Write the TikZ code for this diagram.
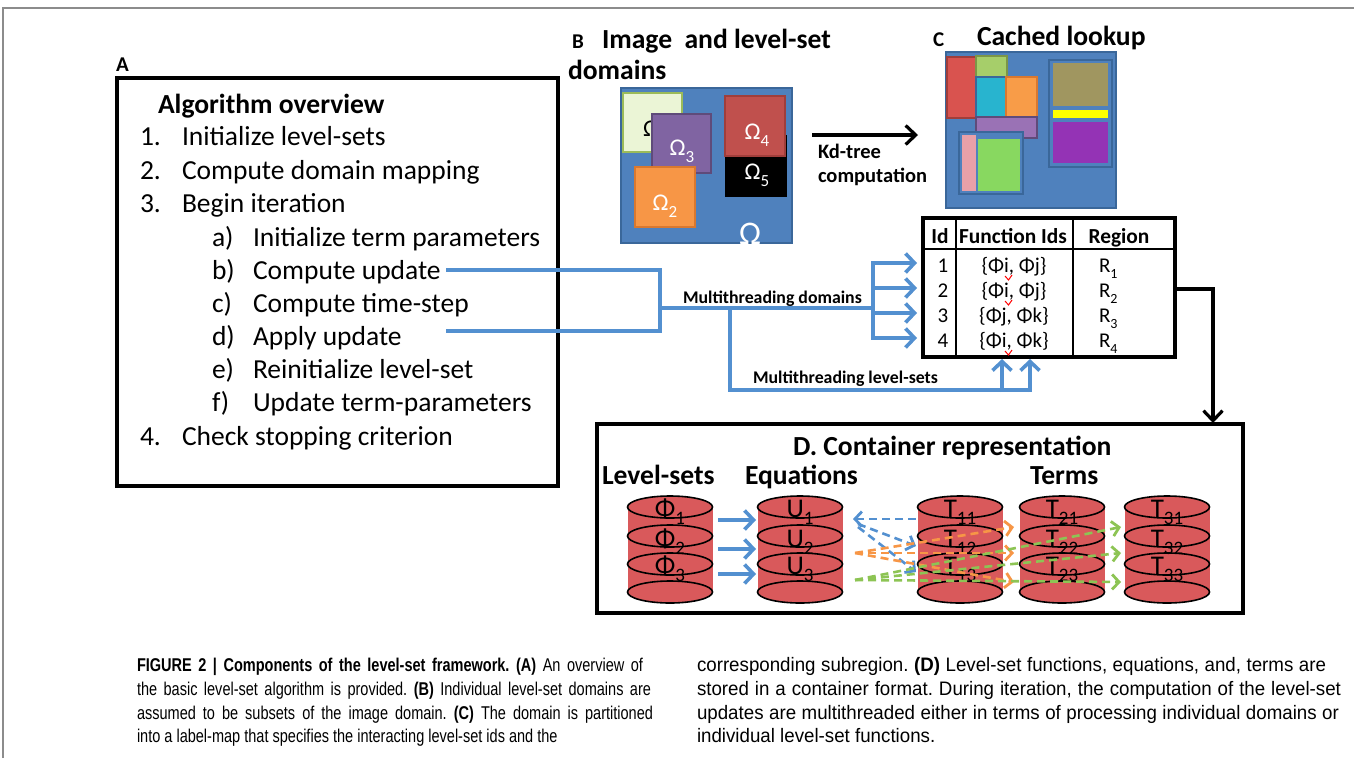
\documentclass[tikz,border=0pt]{standalone}
\usepackage{fontspec}
\setmainfont{Carlito}
\newfontfamily\capfont[FakeStretch=0.785]{Liberation Sans}
\newfontfamily\capwide[FakeStretch=0.96]{Liberation Sans}
\usetikzlibrary{arrows.meta}

\definecolor{frame}{HTML}{8C8C8C}
\definecolor{oblue}{HTML}{4F81BD}
\definecolor{obluedk}{HTML}{3A679A}
\definecolor{lgreen}{HTML}{EBF5D6}
\definecolor{lgreendk}{HTML}{9BBB59}
\definecolor{opurple}{HTML}{8064A2}
\definecolor{opurpledk}{HTML}{5F4B7A}
\definecolor{oorange}{HTML}{F79646}
\definecolor{oorangedk}{HTML}{D9782F}
\definecolor{ored}{HTML}{C0504D}
\definecolor{oreddk}{HTML}{A03E3B}
\definecolor{cred}{HTML}{D9534F}
\definecolor{cgreen}{HTML}{A6CE6A}
\definecolor{ccyan}{HTML}{28B4CF}
\definecolor{corange}{HTML}{F89C48}
\definecolor{cpurple}{HTML}{9A72B5}
\definecolor{cpink}{HTML}{E8A0A8}
\definecolor{cgreen2}{HTML}{88D860}
\definecolor{colive}{HTML}{A09660}
\definecolor{cyellow}{HTML}{FFFF00}
\definecolor{cviolet}{HTML}{9433B5}
\definecolor{linkblue}{HTML}{5390D0}
\definecolor{drum}{HTML}{D9595B}
\definecolor{dorange}{HTML}{F79646}
\definecolor{dgreen}{HTML}{8DC454}

\tikzset{
  every node/.style={inner sep=0pt, outer sep=0pt},
  panelbox/.style={draw=black, line width=3.4pt},
  steptxt/.style={font=\fontsize{27.5}{31}\selectfont, anchor=base west},
  headtxt/.style={font=\fontsize{27.6}{31}\selectfont\bfseries, anchor=base west},
  lettertxt/.style={font=\fontsize{21}{24}\selectfont\bfseries, anchor=base west},
  smallbold/.style={font=\fontsize{17.8}{21}\selectfont\bfseries, anchor=base west},
  tabhead/.style={font=\fontsize{21.4}{24}\selectfont\bfseries, anchor=base},
  tabcell/.style={font=\fontsize{21}{24}\selectfont, anchor=base},
  omega/.style={font=\fontsize{24}{28}\selectfont, text=white, anchor=base},
  drumtxt/.style={font=\fontsize{27}{30}\selectfont, anchor=base},
  captxt/.style={font=\capfont\frenchspacing\fontsize{18.5}{21}\selectfont, anchor=base west},
  capright/.style={captxt, font=\capwide\frenchspacing\fontsize{19.5}{22}\selectfont},
  link/.style={draw=linkblue, line width=4.4pt},
  linktip/.style={-{Straight Barb[length=9pt,width=19pt,line width=3.6pt]}},
  blacktip/.style={-{Straight Barb[length=10pt,width=19pt,line width=3.2pt]}},
  dashlink/.style={line width=2.6pt, dash pattern=on 8pt off 5pt},
  dashtip/.style={-{Straight Barb[length=7pt,width=15pt,line width=2.8pt]}},
}

% a stack of three labelled drums with an empty bottom lid
\newcommand\drumstack[6]{%
  \fill[drum] (#1-42.5,507) rectangle (#1+42.5,592);
  \foreach \yy in {507,536,564,592}
    \filldraw[fill=drum, draw=black, line width=1.6pt] (#1,\yy) ellipse [x radius=42.5, y radius=11];
  \node[drumtxt] (#2a) at (#1,517) {#3\raisebox{-0.26em}{\fontsize{19}{21}\selectfont #4}};
  \node[drumtxt] (#2b) at (#1,547) {#3\raisebox{-0.26em}{\fontsize{19}{21}\selectfont #5}};
  \node[drumtxt] (#2c) at (#1,574) {#3\raisebox{-0.26em}{\fontsize{19}{21}\selectfont #6}};
}

\begin{document}
\begin{tikzpicture}[x=1pt, y=-1pt]
\useasboundingbox (0,0) rectangle (1354,758);

% page frame
\draw[frame, line width=1.6pt] (3,758) -- (3,8) -- (1354,8);

% ---------------- A: algorithm overview ----------------
\node[lettertxt] (labA) at (116,71) {A};
\node[panelbox, anchor=north west, minimum width=441, minimum height=408] (boxA) at (117,78) {};
\node[headtxt] (titleA) at (158,113) {Algorithm overview};
\node[steptxt] (n1) at (140,145) {1.};  \node[steptxt] (s1) at (182,145) {Initialize level-sets};
\node[steptxt] (n2) at (140,179) {2.};  \node[steptxt] (s2) at (182,179) {Compute domain mapping};
\node[steptxt] (n3) at (140,212) {3.};  \node[steptxt] (s3) at (182,212) {Begin iteration};
\node[steptxt] (la) at (212,246) {a)};  \node[steptxt] (ta) at (253,246) {Initialize term parameters};
\node[steptxt] (lb) at (212,279) {b)};  \node[steptxt] (tb) at (253,279) {Compute update};
\node[steptxt] (lc) at (212,312) {c)};  \node[steptxt] (tc) at (253,312) {Compute time-step};
\node[steptxt] (ld) at (212,345) {d)};  \node[steptxt] (td) at (253,345) {Apply update};
\node[steptxt] (le) at (212,378) {e)};  \node[steptxt] (te) at (253,378) {Reinitialize level-set};
\node[steptxt] (lf) at (212,411) {f)};  \node[steptxt] (tf) at (253,411) {Update term-parameters};
\node[steptxt] (n4) at (140,445) {4.};  \node[steptxt] (s4) at (182,445) {Check stopping criterion};

% ---------------- B: image and level-set domains ----------------
\node[lettertxt] (labB) at (572,48) {B};
\node[headtxt] (titleB1) at (602,48) {Image\ \ and level-set};
\node[headtxt] (titleB2) at (568,79) {domains};
\filldraw[fill=oblue, draw=obluedk, line width=2pt] (621,88) rectangle (792,243);
\filldraw[fill=lgreen, draw=lgreendk, line width=1.4pt] (623,93) rectangle (682,152);
\node[font=\fontsize{24}{28}\selectfont, anchor=base] (om1) at (651,136) {Ω};
\filldraw[fill=opurple, draw=opurpledk, line width=2.6pt] (652,114) rectangle (711,173);
\filldraw[fill=oorange, draw=oorangedk, line width=2.6pt] (635,167) rectangle (695,227);
\fill[black] (725,135) rectangle (787,197);
\filldraw[fill=ored, draw=oreddk, line width=2.6pt] (725,96) rectangle (785,156);
\node[omega] (om3) at (682,155) {Ω\raisebox{-0.3em}{\fontsize{17}{19}\selectfont 3}};
\node[omega] (om2) at (665,210) {Ω\raisebox{-0.3em}{\fontsize{17}{19}\selectfont 2}};
\node[omega] (om4) at (757,139) {Ω\raisebox{-0.3em}{\fontsize{17}{19}\selectfont 4}};
\node[omega] (om5) at (757,179) {Ω\raisebox{-0.3em}{\fontsize{17}{19}\selectfont 5}};
\node[omega, font=\fontsize{33}{36}\selectfont] (omall) at (750,244) {Ω};

% Kd-tree arrow
\coordinate (kdFrom) at (812,135);
\coordinate (kdTo) at (918,135);
\draw[line width=3.6pt, blacktip] (kdFrom) -- (kdTo);
\node[smallbold, font=\fontsize{20.5}{24}\selectfont\bfseries] (kd1) at (818,158) {Kd-tree};
\node[smallbold, font=\fontsize{20.5}{24}\selectfont\bfseries] (kd2) at (818,182) {computation};

% ---------------- C: cached lookup ----------------
\node[lettertxt] (labC) at (933,46) {C};
\node[headtxt] (titleC) at (977,45) {Cached lookup};
\filldraw[fill=oblue, draw=obluedk, line width=2pt] (946,52) rectangle (1116,208);
\filldraw[fill=cred, draw=oreddk, line width=2pt] (947,57) rectangle (976,118);
\filldraw[fill=cgreen, draw=lgreendk!80!black, line width=2pt] (976,56) rectangle (1007,77);
\filldraw[fill=ccyan, draw=obluedk, line width=2pt] (976,77) rectangle (1006,117);
\filldraw[fill=corange, draw=oorangedk, line width=2pt] (1006,77) rectangle (1037,117);
\filldraw[fill=cpurple, draw=opurpledk, line width=2pt] (976,117) rectangle (1037,138);
\filldraw[fill=oblue, draw=obluedk, line width=2.4pt] (959,132) rectangle (1023,194);
\fill[cpink] (962,135) rectangle (976,191);
\fill[cgreen2] (978,139) rectangle (1020,191);
\filldraw[fill=oblue, draw=obluedk, line width=2.4pt] (1049,60) rectangle (1112,167);
\fill[colive] (1053,63) rectangle (1108,106);
\fill[cyellow] (1053,110) rectangle (1108,118);
\fill[cviolet] (1053,122) rectangle (1108,163);

% lookup table
\node[draw=black, line width=3.2pt, anchor=north west, minimum width=252, minimum height=139] (tab) at (923,218) {};
\draw[line width=2.8pt] (923,249) -- (1175,249);
\draw[line width=2.8pt] (956,218) -- (956,357);
\draw[line width=2.8pt] (1073,218) -- (1073,357);
\node[tabhead] (hId) at (940,243) {Id};
\node[tabhead] (hFn) at (1013,243) {Function Ids};
\node[tabhead] (hRg) at (1119,243) {Region};
\foreach \r/\yy/\fn in {1/272/{\{Φi, Φj\}},2/297/{\{Φi, Φj\}},3/322/{\{Φj, Φk\}},4/347/{\{Φi, Φk\}}} {
  \node[tabcell] (id\r) at (943,\yy) {\r};
  \node[tabcell] (fn\r) at (1014,\yy) {\fn};
  \node[tabcell, anchor=base west] (rg\r) at (1099,\yy) {R\raisebox{-0.3em}{\fontsize{14}{16}\selectfont\r}};
}
% spell-check marks under the i
\foreach \yy in {276,301,351}
  \draw[red, line width=1pt] (1005,\yy) -- (1008.5,\yy+4) -- (1012,\yy-1);

% ---------------- multithreading connectors ----------------
\coordinate (bEnd) at (446,270);
\coordinate (dEnd) at (446,331);
\coordinate (mj) at (660,308);
\coordinate (fork) at (873,308);
\coordinate (lsj) at (730,308);
\draw[link] (bEnd) -- (660,270) -- (660,331) -- (dEnd);
\draw[link] (mj) -- (fork);
\draw[link] (873,263) -- (873,338);
\foreach \yy in {263,288,313,338}
  \draw[link, linktip] (871,\yy) -- (917,\yy);
\draw[link] (lsj) -- (730,390) -- (1030,390);
\draw[link, linktip] (1002,392) -- (1002,359);
\draw[link, linktip] (1030,392) -- (1030,359);
\node[smallbold] (mtd) at (683,303) {Multithreading domains};
\node[smallbold] (mtl) at (753,383) {Multithreading level-sets};

% table to container
\draw[line width=3.2pt, blacktip] (tab.east |- 0,289) -- (1213,289) -- (1213,423);

% ---------------- D: container representation ----------------
\node[panelbox, anchor=north west, minimum width=646, minimum height=189] (boxD) at (597,424) {};
\node[headtxt] (titleD) at (793,455) {D. Container representation};
\node[headtxt] (hLS) at (602,484) {Level-sets};
\node[headtxt] (hEq) at (745,484) {Equations};
\node[headtxt] (hTm) at (1030,484) {Terms};

\drumstack{670}{phi}{Φ}{1}{2}{3}
\drumstack{800}{u}{U}{1}{2}{3}
\drumstack{960}{ta}{T}{11}{12}{13}
\drumstack{1062}{tb}{T}{21}{22}{23}
\drumstack{1167}{tc}{T}{31}{32}{33}

% level-sets feed the equations
\foreach \yy in {520,549,574}
  \draw[link, line width=3.6pt, linktip] (718,\yy) -- (756,\yy);

% equations fan out to the terms
\coordinate (eqA) at (853,519);
\coordinate (eqB) at (855,553);
\coordinate (eqC) at (855,580);
\draw[linkblue, dashlink, dashtip, {Straight Barb[length=7pt,width=15pt,line width=2.8pt]}-] (eqA) -- (917,519);
\draw[linkblue, dashlink, dashtip] (858,524) -- (916,546);
\draw[linkblue, dashlink, dashtip] (858,527) -- (916,572);
\foreach \yy in {527,553,582}
  \draw[dorange, dashlink, dashtip] (eqB) -- (1014,\yy);
\foreach \yy in {527,553,582}
  \draw[dgreen, dashlink, dashtip] (eqC) -- (1121,\yy);

% ---------------- caption ----------------
\node[captxt] (c1) at (137,671) {\makebox[506pt][s]{\textbf{FIGURE 2 | Components of the level-set framework. (A)} An overview of}};
\node[captxt] (c2) at (137,695) {\makebox[514pt][s]{the basic level-set algorithm is provided. \textbf{(B)} Individual level-set domains are}};
\node[captxt] (c3) at (137,719) {\makebox[516pt][s]{assumed to be subsets of the image domain. \textbf{(C)} The domain is partitioned}};
\node[captxt] (c4) at (137,742) {into a label-map that specifies the interacting level-set ids and the};
\node[capright] (c5) at (697,671) {\makebox[629pt][s]{corresponding subregion. \textbf{(D)} Level-set functions, equations, and, terms are}};
\node[capright] (c6) at (697,695) {\makebox[644pt][s]{stored in a container format. During iteration, the computation of the level-set}};
\node[capright] (c7) at (697,719) {\makebox[642pt][s]{updates are multithreaded either in terms of processing individual domains or}};
\node[capright] (c8) at (697,742) {individual level-set functions.};
\end{tikzpicture}
\end{document}
